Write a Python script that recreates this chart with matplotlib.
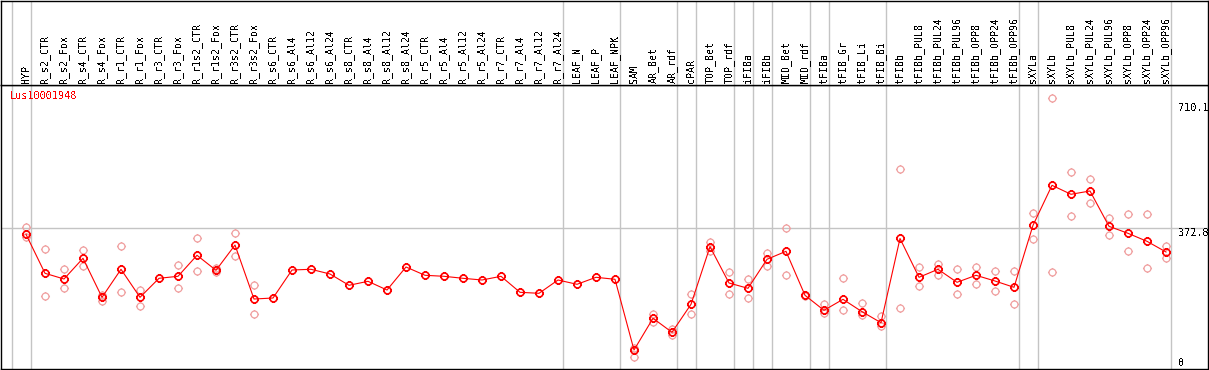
import matplotlib
matplotlib.use("Agg")
import matplotlib.pyplot as plt
import matplotlib.transforms as mtransforms
from matplotlib.path import Path

# sample names across the header (one column each)
SAMPLES = [
    "HYP", "R_s2_CTR", "R_s2_Fox", "R_s4_CTR", "R_s4_Fox", "R_r1_CTR", "R_r1_Fox",
    "R_r3_CTR", "R_r3_Fox", "R_r1s2_CTR", "R_r1s2_Fox", "R_r3s2_CTR", "R_r3s2_Fox",
    "R_s6_CTR", "R_s6_Al4", "R_s6_Al12", "R_s6_Al24", "R_s8_CTR", "R_s8_Al4",
    "R_s8_Al12", "R_s8_Al24", "R_r5_CTR", "R_r5_Al4", "R_r5_Al12", "R_r5_Al24",
    "R_r7_CTR", "R_r7_Al4", "R_r7_Al12", "R_r7_Al24", "LEAF_N", "LEAF_P", "LEAF_NPK",
    "SAM", "AR_Bet", "AR_rdf", "cPAR", "TOP_Bet", "TOP_rdf", "iFIBa", "iFIBb",
    "MID_Bet", "MID_rdf", "tFIBa", "tFIB_Gr", "tFIB_Li", "tFIB_Bi", "tFIBb",
    "tFIBb_PUL8", "tFIBb_PUL24", "tFIBb_PUL96", "tFIBb_OPP8", "tFIBb_OPP24",
    "tFIBb_OPP96", "sXYLa", "sXYLb", "sXYLb_PUL8", "sXYLb_PUL24", "sXYLb_PUL96",
    "sXYLb_OPP8", "sXYLb_OPP24", "sXYLb_OPP96",
]

# mean expression per sample
MEANS = [
    356.7, 251.5, 236.1, 292.0, 186.7, 262.3, 186.7, 238.0, 243.4, 300.1, 259.6,
    327.8, 182.1, 184.8, 260.4, 262.3, 249.6, 219.1, 229.9, 206.4, 268.5, 246.1,
    243.4, 238.0, 233.4, 243.4, 200.2, 197.5, 233.4, 221.8, 240.7, 235.3,
    44.5, 130.1, 92.3, 167.8, 323.3, 225.3, 211.0, 289.3, 310.8, 192.1,
    151.6, 181.3, 147.9, 118.2, 345.4, 240.7, 262.3, 227.2, 246.1, 230.7, 213.7,
    381.0, 488.9, 464.7, 473.6, 378.3, 359.4, 337.8, 309.0,
]

# replicate values (None = no replicates shown)
REPS = [
    [377.2, 349.0], [316.2, 189.4], [262.3, 211.0], [313.5, 270.4], [192.9, 177.5],
    [324.3, 200.2], [206.4, 164.1], None, [273.1, 212.6], [345.9, 256.9],
    [265.8, 255.0], [360.2, 297.4], [219.1, 140.9],
    None, None, None, None, None, None, None, None, None, None, None, None,
    None, None, None, None, None, None, None,
    [49.1, 24.8], [140.9, 120.9], [100.4, 84.2], [194.8, 140.9], [335.9, 312.5],
    [255.0, 194.8], [236.1, 184.0], [305.5, 272.0], [372.9, 246.1], [192.9, 190.0],
    [168.6, 143.6], [239.6, 151.6], [170.5, 139.0], [137.1, 109.3], [532.1, 157.0],
    [267.7, 216.4], [277.4, 247.7], [262.3, 194.8], [267.7, 221.8], [256.9, 202.9],
    [258.5, 169.5], [415.0, 344.8], [723.7, 254.2], [524.0, 405.3], [505.1, 440.4],
    [399.9, 354.0], [410.7, 310.8], [410.7, 265.0], [324.3, 292.0],
]

# last column index of each tissue group (grey separators)
GROUP_ENDS = [-1, 0, 28, 31, 34, 35, 37, 38, 39, 41, 42, 45, 52, 53, 60]
Y_TICKS = [710.1, 372.8, 0]
GENE = "Lus10001948"

RED = "#ff0000"
PINK = "#f0a0a0"
GRID = "#c4c4c4"
MONO = "DejaVu Sans Mono"

W, H = 1209, 370

plt.rcParams.update({"text.antialiased": False})


def tick_circle():
    # pixel-font style circle with little ticks on the four sides
    parts = [Path.unit_circle()]
    for a, b in [((0, 1), (0, 1.3)), ((0, -1), (0, -1.3)),
                 ((1, 0), (1.3, 0)), ((-1, 0), (-1.3, 0))]:
        parts.append(Path([a, b], [Path.MOVETO, Path.LINETO]))
    return Path.make_compound_path(*parts)


def main():
    fig = plt.figure(figsize=(W / 100, H / 100), dpi=100)
    left, right = 1, 1208
    top_plot, bottom_plot = 85, 368.5

    ax = fig.add_axes([left / W, (H - bottom_plot) / H, (right - left) / W,
                       (bottom_plot - top_plot) / H])
    hdr = fig.add_axes([left / W, (H - top_plot) / H, (right - left) / W,
                        (top_plot - 0.5) / H])

    x0, dx = 26, 19
    xlim = ((left - x0) / dx, (right - x0) / dx)
    for a in (ax, hdr):
        a.set_xlim(*xlim)
        a.set_xticks([])
        a.set_yticks([])
        for s in a.spines.values():
            s.set_color("black")
            s.set_linewidth(1.0)
        for g in GROUP_ENDS:
            a.axvline(g + 0.24, color=GRID, lw=1.0, zorder=1)

    hdr.set_ylim(0, 1)
    for i, name in enumerate(SAMPLES):
        hdr.text(i, 0.025, name, rotation=90, ha="center", va="bottom",
                 fontsize=7.2, family=MONO, color="black")

    ax.set_ylim(-5.4, 759.6)
    ax.axhline(372.8, color=GRID, lw=1.0, zorder=1)

    mk = tick_circle()
    xs = list(range(len(SAMPLES)))
    rx, ry = [], []
    for i, r in enumerate(REPS):
        if r:
            rx.extend([i] * len(r))
            ry.extend(r)
    ax.plot(rx, ry, ls="none", marker=mk, markersize=6.5, markerfacecolor="none",
            markeredgecolor=PINK, markeredgewidth=0.9, zorder=2)
    ax.plot(xs, MEANS, color=RED, lw=0.8, marker=mk, markersize=6.5,
            markerfacecolor="none", markeredgecolor=RED, markeredgewidth=1.2, zorder=3)

    # right-hand value labels, left aligned at a fixed pixel column
    lab_x = (1178 - left) / (right - left)
    trans = mtransforms.blended_transform_factory(ax.transAxes, ax.transData)
    for v in Y_TICKS:
        va = "baseline" if v == 0 else "top"
        ax.text(lab_x, v, f"{v:g}", transform=trans, ha="left", va=va,
                fontsize=7.4, family=MONO, color="black")

    ax.text(8.5 / (right - left), 1 - 6 / (bottom_plot - top_plot), GENE,
            transform=ax.transAxes, ha="left", va="top", fontsize=7.4,
            family=MONO, color=RED)

    fig.savefig("out.png", dpi=100)
    plt.close(fig)


if __name__ == "__main__":
    main()
